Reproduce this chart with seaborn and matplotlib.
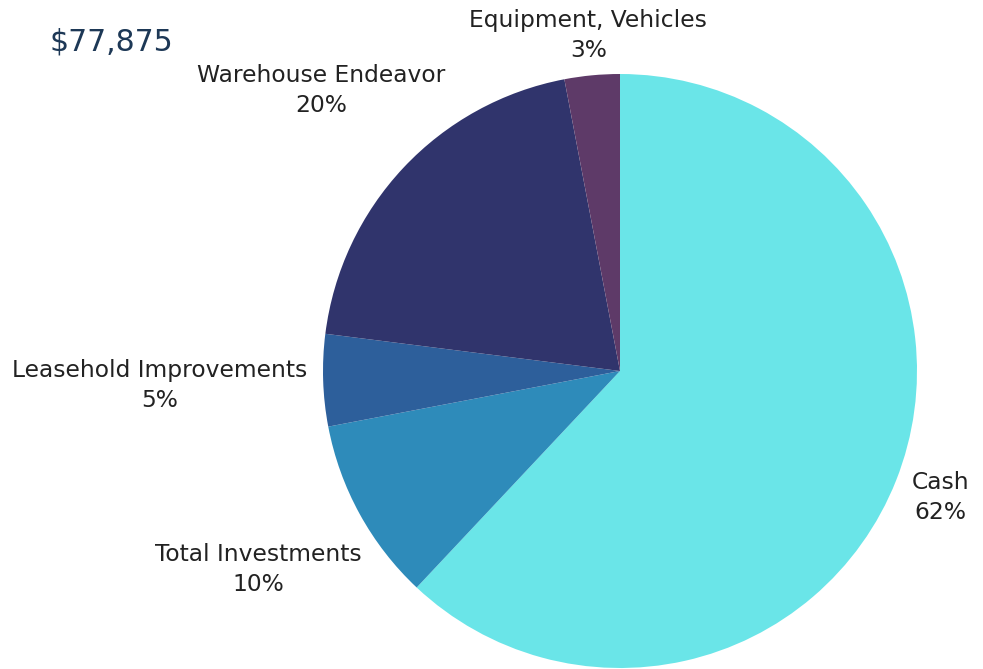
import numpy as np
import matplotlib
matplotlib.use("Agg")
import matplotlib.pyplot as plt
import seaborn as sns

# chart data
categories = ["Cash", "Total Investments", "Leasehold Improvements", "Warehouse Endeavor", "Equipment, Vehicles"]
shares = [62, 10, 5, 20, 3]
colors = ["#6ae5e8", "#2e8bba", "#2d5f9b", "#30346c", "#5e3a68"]
label_dist = [1.16, 1.39, 1.55, 1.38, 1.135]
total_text = "$77,875"

sns.set_theme(style="white")
plt.rcParams["font.family"] = ["DejaVu Sans"]

W, H = 983, 669
cx, cy, R = 620, 371, 297
fig = plt.figure(figsize=(W / 100, H / 100), dpi=100)
ax = fig.add_axes([0, 0, 1, 1])

wedges, _ = ax.pie(shares, colors=colors, startangle=90, counterclock=False,
                   radius=1, wedgeprops=dict(linewidth=0))

for w, name, v, d in zip(wedges, categories, shares, label_dist):
    mid = np.deg2rad((w.theta1 + w.theta2) / 2)
    ax.text(d * np.cos(mid), d * np.sin(mid), f"{name}\n{v}%", ha="center", va="center",
            fontsize=16.8, color="#222222", linespacing=1.38)

ax.set_aspect("auto")
ax.set_xlim(-cx / R, (W - cx) / R)
ax.set_ylim(-(H - cy) / R, cy / R)
ax.axis("off")

fig.text(50 / W, 1 - 42 / H, total_text, fontsize=21.5, color="#1d3856", va="center", ha="left")

fig.savefig("out.png", dpi=100)
